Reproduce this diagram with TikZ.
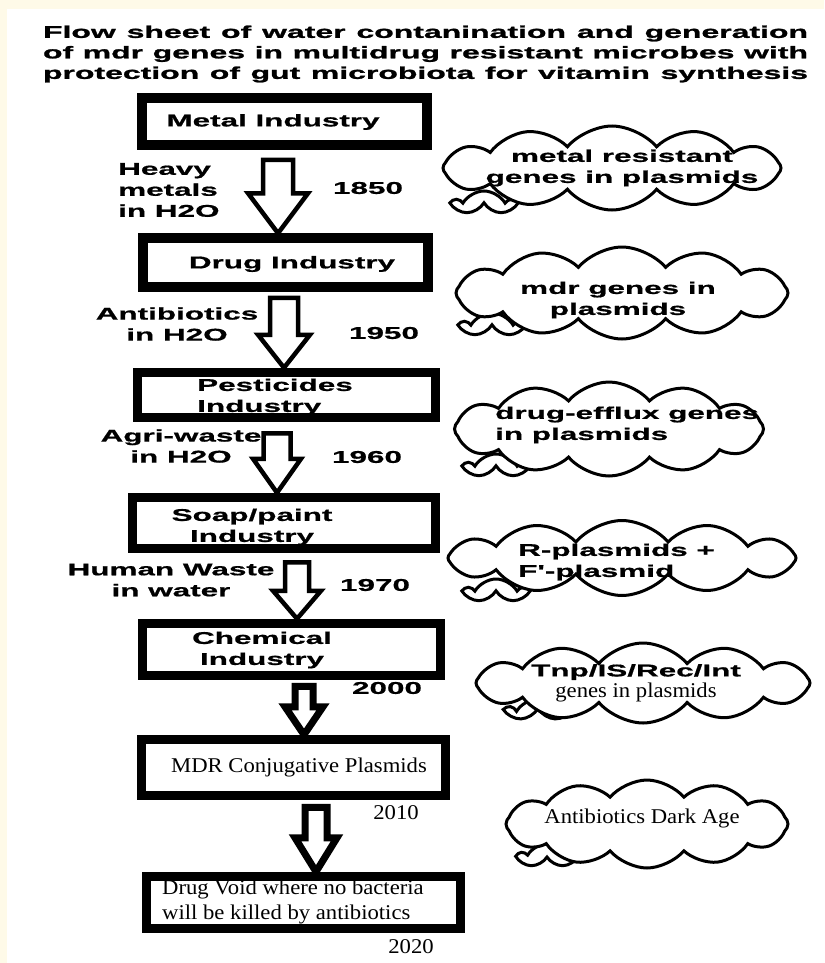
\documentclass[tikz,border=0pt]{standalone}
\usepackage{fontspec}
\newfontfamily\sanswide[FakeStretch=1.85, FakeBold=0.8]{Liberation Sans}
\newfontfamily\titlewide[FakeStretch=1.88, FakeBold=1.4]{Liberation Sans}
\newfontfamily\serifwide[FakeStretch=1.08]{Liberation Serif}
\usetikzlibrary{calc, shapes.symbols}
\definecolor{paper}{HTML}{FEFAE8}
\tikzset{
    box/.style={draw, line width=9.5pt, inner sep=0pt},
    boldtext/.style={font=\sanswide\bfseries\fontsize{17}{21}\selectfont, align=center, inner sep=0pt},
    plaintext/.style={font=\serifwide\fontsize{21}{25}\selectfont, align=left, inner sep=0pt},
    thought/.style={cloud, draw, fill=white, line width=3pt, cloud puffs=12, cloud puff arc=100,
        cloud ignores aspect, inner sep=0pt},
    tail/.style={thought, cloud puffs=5, cloud puff arc=120},
    blockarrow/.style={draw, fill=white, line width=4.5pt},
    heavyarrow/.style={blockarrow, line width=7pt}
}
% hollow down arrow: [style]{x}{from}{to}{gap}{shaft half}{head half}{head length}
\newcommand{\hollowarrow}[8][blockarrow]{%
    \draw[#1] ($(#2,0 |- #3.south)+(-#6,#5)$) -- ($(#2,0 |- #3.south)+(#6,#5)$)
        -- ($(#2,0 |- #4.north)+(#6,-#8)$) -- ($(#2,0 |- #4.north)+(#7,-#8)$)
        -- (#2,0 |- #4.north) -- ($(#2,0 |- #4.north)+(-#7,-#8)$)
        -- ($(#2,0 |- #4.north)+(-#6,-#8)$) -- cycle;}

\begin{document}
\begin{tikzpicture}[x=1pt, y=-1pt]
    \useasboundingbox (0,0) rectangle (824,963);
    % Paper
    \fill[paper] (0,0) rectangle (824,963);
    \fill[white] (7,9) rectangle (824,963);

    % Title
    \node[boldtext, font=\titlewide\bfseries\fontsize{17}{20.5}\selectfont] (title) at (425.5,54)
        {\makebox[765pt][s]{Flow sheet of water contanination and generation}\\
         \makebox[765pt][s]{of mdr genes in multidrug resistant microbes with}\\
         \makebox[765pt][s]{protection of gut microbiota for vitamin synthesis}};

    % Boxes
    \node[box, minimum width=285pt, minimum height=47pt] (metal) at (284.5,121.5) {};
    \node[box, minimum width=285pt, minimum height=49pt] (drug) at (285.5,262.5) {};
    \node[box, minimum width=298pt, minimum height=45pt] (pest) at (286.5,395) {};
    \node[box, minimum width=303pt, minimum height=51pt] (soap) at (284,523) {};
    \node[box, minimum width=298pt, minimum height=52pt] (chem) at (291.5,649.5) {};
    \node[box, minimum width=304pt, minimum height=56pt] (mdr) at (293.5,767.5) {};
    \node[box, minimum width=314pt, minimum height=52pt] (void) at (303.5,902.5) {};

    % Box texts
    \node[boldtext] (metal-t) at (273,122) {Metal Industry};
    \node[boldtext] (drug-t) at (292,264) {Drug Industry};
    \node[boldtext, align=left, anchor=west] (pest-t) at (197,397) {Pesticides\\Industry};
    \node[boldtext] (soap-t) at (252,527) {Soap/paint\\Industry};
    \node[boldtext] (chem-t) at (262,650) {Chemical\\Industry};
    \node[plaintext] (mdr-t) at (299,767) {MDR Conjugative Plasmids};
    \node[plaintext, anchor=west] (void-t) at (162,902) {Drug Void where no bacteria\\will be killed by antibiotics};

    % Arrows
    \hollowarrow{278}{metal}{drug}{10}{15}{30}{40}
    \hollowarrow{284}{drug}{pest}{6}{14}{26}{33}
    \hollowarrow{277}{pest}{soap}{11}{13.5}{24}{34}
    \hollowarrow{297}{soap}{chem}{9}{12}{24}{28}
    \hollowarrow[heavyarrow]{304}{chem}{mdr}{6}{9}{19}{28}
    \hollowarrow[heavyarrow]{316}{mdr}{void}{7}{11}{21}{34}

    % Side labels
    \node[boldtext, align=left, anchor=west] (heavy) at (118,190) {Heavy\\metals\\in H2O};
    \node[boldtext] (y1850) at (368,188) {1850};
    \node[boldtext] (antib) at (177,324) {Antibiotics\\in H2O};
    \node[boldtext] (y1950) at (384,333) {1950};
    \node[boldtext] (agri) at (181,446) {Agri-waste\\in H2O};
    \node[boldtext] (y1960) at (367,457) {1960};
    \node[boldtext] (human) at (171,580) {Human Waste\\in water};
    \node[boldtext] (y1970) at (375,585) {1970};
    \node[boldtext] (y2000) at (387,688) {2000};
    \node[plaintext] (y2010) at (396,813) {2010};
    \node[plaintext] (y2020) at (411,947) {2020};

    % Cloud tails
    \node[tail, minimum width=58pt, minimum height=24pt] (cl1-tail) at (484,203) {};
    \node[tail, minimum width=58pt, minimum height=24pt] (cl2-tail) at (492,325) {};
    \node[tail, minimum width=58pt, minimum height=24pt] (cl3-tail) at (496,466) {};
    \node[tail, minimum width=58pt, minimum height=24pt] (cl4-tail) at (496,591) {};
    \node[tail, minimum width=58pt, minimum height=22pt] (cl5-tail) at (538,710) {};
    \node[tail, minimum width=54pt, minimum height=24pt] (cl6-tail) at (547,856) {};

    % Clouds
    \node[thought, minimum width=338pt, minimum height=84pt] (cl1) at (612,168) {};
    \node[thought, minimum width=332pt, minimum height=92pt] (cl2) at (622,293) {};
    \node[thought, minimum width=309pt, minimum height=94pt] (cl3) at (609,429) {};
    \node[thought, minimum width=348pt, minimum height=75pt] (cl4) at (622,558) {};
    \node[thought, minimum width=334pt, minimum height=80pt] (cl5) at (643,683) {};
    \node[thought, minimum width=282pt, minimum height=88pt] (cl6) at (647,824) {};

    % Cloud texts
    \node[boldtext] (cl1-t) at (622,168) {metal resistant\\genes in plasmids};
    \node[boldtext] (cl2-t) at (618,300) {mdr genes in\\plasmids};
    \node[boldtext, align=left, anchor=west] (cl3-t) at (495,425) {drug-efflux genes\\in plasmids};
    \node[boldtext, align=left, anchor=west] (cl4-t) at (518,562) {R-plasmids +\\F'-plasmid};
    \node[boldtext] (cl5-t) at (636,683) {Tnp/IS/Rec/Int\\{\serifwide\mdseries\fontsize{21}{23}\selectfont genes in plasmids}};
    \node[plaintext] (cl6-t) at (642,818) {Antibiotics Dark Age};
\end{tikzpicture}
\end{document}
